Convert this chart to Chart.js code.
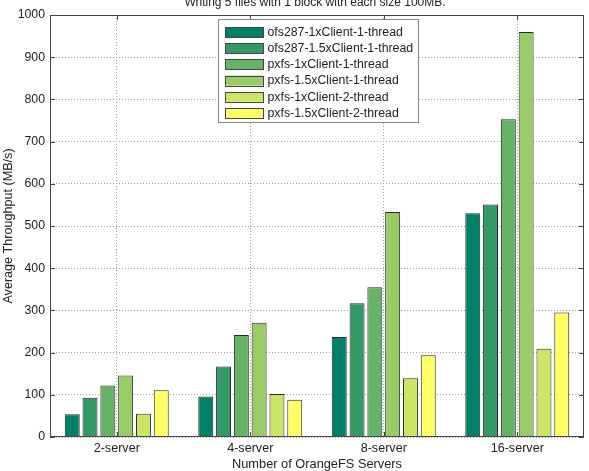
<!DOCTYPE html>
<html>
<head>
<meta charset="utf-8">
<script src="https://cdn.jsdelivr.net/npm/chart.js@4/dist/chart.umd.min.js"></script>
<style>
html,body{margin:0;padding:0;background:#fff;}
#wrap{width:589px;height:471px;position:relative;}
</style>
</head>
<body>
<div id="wrap"><canvas id="c" width="589" height="471"></canvas></div>
<script>
const categories = ['2-server', '4-server', '8-server', '16-server'];
const seriesNames = ['ofs287-1xClient-1-thread', 'ofs287-1.5xClient-1-thread', 'pxfs-1xClient-1-thread', 'pxfs-1.5xClient-1-thread', 'pxfs-1xClient-2-thread', 'pxfs-1.5xClient-2-thread'];
const ofs287_1x_1t = [54, 96, 237, 530];
const ofs287_15x_1t = [93, 167, 317, 551];
const pxfs_1x_1t = [122, 242, 355, 753];
const pxfs_15x_1t = [146, 271, 533, 960];
const pxfs_1x_2t = [55, 102, 139, 209];
const pxfs_15x_2t = [111, 88, 194, 295];
const seriesColors = ['#008066', '#339966', '#66b266', '#99cc66', '#cce566', '#ffff66'];
const titleText = 'Writing 5 files with 1 block with each size 100MB.';
const xTitle = 'Number of OrangeFS Servers';
const yTitle = 'Average Throughput (MB/s)';

const FONT = '"Liberation Sans", Arial, Helvetica, sans-serif';
const allSeries = [ofs287_1x_1t, ofs287_15x_1t, pxfs_1x_1t, pxfs_15x_1t, pxfs_1x_2t, pxfs_15x_2t];

const datasets = allSeries.map((d, i) => ({
  label: seriesNames[i],
  data: d,
  backgroundColor: seriesColors[i],
  borderColor: '#2a2a2a',
  borderWidth: 1,
  categoryPercentage: 0.80,
  barPercentage: 0.84
}));

const decor = {
  id: 'decor',
  afterDraw(chart) {
    const ctx = chart.ctx;
    const a = chart.chartArea;
    const xs = chart.scales.x, ys = chart.scales.y;
    ctx.save();
    // title
    ctx.fillStyle = '#222';
    ctx.font = '12px ' + FONT;
    ctx.textAlign = 'center';
    ctx.textBaseline = 'alphabetic';
    ctx.fillText(titleText, 315, 6);
    // frame
    ctx.strokeStyle = '#444';
    ctx.lineWidth = 1;
    ctx.setLineDash([]);
    ctx.strokeRect(Math.round(a.left) + 0.5, Math.round(a.top) + 0.5, Math.round(a.right - a.left) - 1, Math.round(a.bottom - a.top) - 1);
    // inward ticks
    ctx.beginPath();
    ys.ticks.forEach(t => {
      const y = Math.round(ys.getPixelForValue(t.value)) + 0.5;
      ctx.moveTo(a.left, y); ctx.lineTo(a.left + 5, y);
      ctx.moveTo(a.right, y); ctx.lineTo(a.right - 5, y);
    });
    categories.forEach((c, i) => {
      const x = Math.round(xs.getPixelForValue(i)) + 0.5;
      ctx.moveTo(x, a.bottom); ctx.lineTo(x, a.bottom - 5);
      ctx.moveTo(x, a.top); ctx.lineTo(x, a.top + 5);
    });
    ctx.stroke();
    // legend
    const lx = 218.5, ly = 19.5, lw = 200, lh = 103;
    ctx.fillStyle = '#fff';
    ctx.fillRect(lx, ly, lw, lh);
    ctx.strokeStyle = '#888';
    ctx.strokeRect(lx, ly, lw, lh);
    ctx.font = '12.3px ' + FONT;
    ctx.textAlign = 'left';
    ctx.textBaseline = 'middle';
    chart.data.datasets.forEach((ds, i) => {
      const cy = 32 + i * 16.2;
      ctx.fillStyle = ds.backgroundColor;
      ctx.fillRect(226, cy - 5, 37, 10);
      ctx.strokeStyle = '#444';
      ctx.strokeRect(225.5, Math.round(cy - 5) + 0.5, 38, 10);
      ctx.fillStyle = '#222';
      ctx.fillText(ds.label, 267.5, cy + 0.5);
    });
    ctx.restore();
  }
};

new Chart(document.getElementById('c'), {
  type: 'bar',
  data: { labels: categories, datasets: datasets },
  options: {
    responsive: false,
    animation: false,
    devicePixelRatio: 1,
    layout: { padding: { top: 15, right: 5, left: 0, bottom: 0 } },
    plugins: {
      legend: { display: false },
      title: { display: false },
      tooltip: { enabled: false }
    },
    scales: {
      x: {
        afterFit(s) { s.height = 34; },
        grid: { offset: false, color: '#a0a0a0', lineWidth: 1, drawTicks: false, borderDash: [1, 2] },
        border: { display: false, dash: [1, 2] },
        ticks: { color: '#222', font: { family: FONT, size: 12.6 }, padding: 4, maxRotation: 0 },
        title: { display: true, text: xTitle, color: '#222', font: { family: FONT, size: 12.8, lineHeight: 1 }, padding: { top: 0, bottom: 0 } }
      },
      y: {
        min: 0, max: 1000,
        afterFit(s) { s.width = 50; },
        grid: { color: '#a0a0a0', lineWidth: 1, drawTicks: false, borderDash: [1, 2] },
        border: { display: false, dash: [1, 2] },
        ticks: { stepSize: 100, color: '#222', font: { family: FONT, size: 12.3 }, padding: 5, callback: v => String(v) },
        title: { display: true, text: yTitle, color: '#222', font: { family: FONT, size: 12.6, lineHeight: 1 }, padding: { top: 2, bottom: 0 } }
      }
    }
  },
  plugins: [decor]
});
</script>
</body>
</html>
